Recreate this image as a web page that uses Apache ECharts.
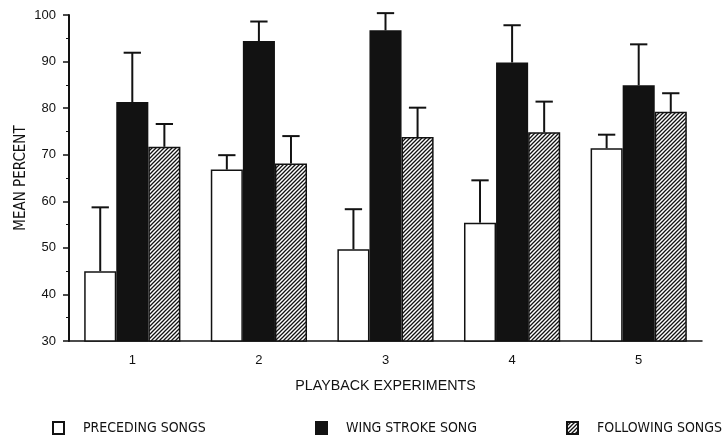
<!DOCTYPE html>
<html>
<head>
<meta charset="utf-8">
<script src="https://cdn.jsdelivr.net/npm/echarts@6/dist/echarts.min.js"></script>
<style>
  html, body { margin: 0; padding: 0; background: #fff; }
  #chart { width: 724px; height: 437px; }
</style>
</head>
<body>
<div id="chart"></div>
<script>
// Playback experiments: mean percent per song type, with upper error bars
const experiments = ['1', '2', '3', '4', '5'];
const seriesNames = ['PRECEDING SONGS', 'WING STROKE SONG', 'FOLLOWING SONGS'];
const precedingMean = [45.0, 66.8, 49.7, 55.4, 71.4];
const precedingTop  = [58.7, 69.9, 58.3, 64.5, 74.3];
const wingMean      = [81.3, 94.4, 96.7, 89.8, 84.9];
const wingTop       = [91.9, 98.6, 100.4, 97.8, 93.7];
const followingMean = [71.7, 68.1, 73.8, 74.8, 79.2];
const followingTop  = [76.6, 74.0, 80.1, 81.4, 83.2];
const yTicks = [30, 40, 50, 60, 70, 80, 90, 100];

const INK = '#121212';
const FONT = '"Liberation Sans", Arial, sans-serif';
const NARROW = '"Liberation Sans Narrow", "Arial Narrow", "DejaVu Sans Condensed", sans-serif';

// Diagonal hatch tile ("///") used for the following-songs bars
function hatchPattern() {
  const s = 4;
  const c = document.createElement('canvas');
  c.width = s; c.height = s;
  const g = c.getContext('2d');
  g.fillStyle = '#fff';
  g.fillRect(0, 0, s, s);
  g.strokeStyle = INK;
  g.lineWidth = 1.3;
  g.beginPath();
  g.moveTo(-1, s + 1); g.lineTo(s + 1, -1);
  g.moveTo(-1, 1); g.lineTo(1, -1);
  g.moveTo(s - 1, s + 1); g.lineTo(s + 1, s - 1);
  g.stroke();
  return c;
}

const fills = ['#ffffff', INK, { image: hatchPattern(), repeat: 'repeat' }];
const means = [precedingMean, wingMean, followingMean];
const tops = [precedingTop, wingTop, followingTop];
const CAT_GAP = 0.24;

const barSeries = seriesNames.map((name, i) => ({
  name: name,
  type: 'bar',
  data: means[i],
  barGap: '0%',
  barCategoryGap: (CAT_GAP * 100) + '%',
  itemStyle: { color: fills[i], borderColor: INK, borderWidth: 1.5 },
  z: 2
}));

// Error bars: one stem + cap per bar, placed at that bar's centre
const errData = [];
for (let s = 0; s < 3; s++) {
  for (let c = 0; c < experiments.length; c++) {
    errData.push([c, means[s][c], tops[s][c], s]);
  }
}
const errSeries = {
  type: 'custom',
  data: errData,
  z: 3,
  silent: true,
  renderItem: function (params, api) {
    const cat = api.value(0);
    const s = api.value(3);
    const band = api.size([1, 0])[0];
    const barW = band * (1 - CAT_GAP) / 3;
    const base = api.coord([cat, api.value(1)]);
    const top = api.coord([cat, api.value(2)]);
    const x = base[0] + (s - 1) * barW;
    const cap = barW * 0.27;
    const style = { stroke: INK, lineWidth: 2 };
    return {
      type: 'group',
      children: [
        { type: 'line', shape: { x1: x, y1: base[1], x2: x, y2: top[1] }, style: style },
        { type: 'line', shape: { x1: x - cap, y1: top[1], x2: x + cap, y2: top[1] }, style: style }
      ]
    };
  }
};

const legendLefts = [52, 315, 566];
const legends = seriesNames.map((name, i) => ({
  data: [name],
  left: legendLefts[i],
  top: 421,
  padding: 0,
  itemWidth: 11,
  itemHeight: 12,
  itemGap: 0,
  icon: 'rect',
  selectedMode: false,
  itemStyle: { borderColor: INK, borderWidth: 2 },
  textStyle: { fontFamily: NARROW, fontSize: 14, color: INK, padding: [0, 0, 0, 14] }
}));

const chart = echarts.init(document.getElementById('chart'), null, { renderer: 'canvas' });
chart.setOption({
  animation: false,
  backgroundColor: '#fff',
  grid: { left: 69, right: 22, top: 15, bottom: 96 },
  legend: legends,
  xAxis: {
    type: 'category',
    data: experiments,
    name: 'PLAYBACK EXPERIMENTS',
    nameLocation: 'middle',
    nameGap: 38,
    nameMoveOverlap: false,
    nameTextStyle: { fontFamily: FONT, fontSize: 14.25, color: INK },
    axisLine: { lineStyle: { color: INK, width: 1.5 } },
    axisTick: { show: false },
    axisLabel: { fontFamily: FONT, fontSize: 13, color: INK, margin: 13 }
  },
  yAxis: {
    type: 'value',
    min: yTicks[0],
    max: yTicks[yTicks.length - 1],
    interval: 10,
    name: 'MEAN PERCENT',
    nameLocation: 'middle',
    nameGap: 40,
    nameMoveOverlap: false,
    nameTextStyle: { fontFamily: NARROW, fontSize: 15, color: INK },
    axisLine: { show: true, lineStyle: { color: INK, width: 2 } },
    axisTick: { show: true, length: 6, lineStyle: { color: INK, width: 1.5 } },
    minorTick: { show: true, splitNumber: 2, length: 3, lineStyle: { color: INK, width: 1 } },
    splitLine: { show: false },
    axisLabel: { fontFamily: FONT, fontSize: 13, color: INK, margin: 13 }
  },
  series: barSeries.concat([errSeries])
});
</script>
</body>
</html>
